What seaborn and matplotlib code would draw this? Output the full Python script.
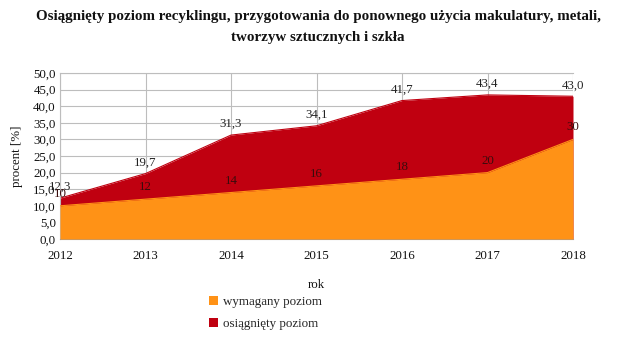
import matplotlib
matplotlib.use("Agg")
import matplotlib.pyplot as plt
import seaborn as sns
import pandas as pd
from matplotlib.patches import Patch

years = [2012, 2013, 2014, 2015, 2016, 2017, 2018]
required = [10, 12, 14, 16, 18, 20, 30]
achieved = [12.3, 19.7, 31.3, 34.1, 41.7, 43.4, 43.0]
required_labels = ["10", "12", "14", "16", "18", "20", "30"]
achieved_labels = ["12,3", "19,7", "31,3", "34,1", "41,7", "43,4", "43,0"]
yticks = [0, 5, 10, 15, 20, 25, 30, 35, 40, 45, 50]
ytick_labels = ["0,0", "5,0", "10,0", "15,0", "20,0", "25,0", "30,0", "35,0", "40,0", "45,0", "50,0"]

title = "Osiągnięty poziom recyklingu, przygotowania do ponownego użycia makulatury, metali,\ntworzyw sztucznych i szkła"
series_names = ["wymagany poziom", "osiągnięty poziom"]

ORANGE = "#FF9216"
RED = "#C00010"

sns.set_theme(style="whitegrid")
plt.rcParams["font.family"] = ["Liberation Serif", "DejaVu Serif"]

df = pd.DataFrame({"rok": years, "wymagany": required, "osiagniety": achieved})

fig = plt.figure(figsize=(6.36, 3.44), dpi=100)
ax = fig.add_axes([60/636, 1-239/344, 513/636, 166/344])

ax.fill_between(df["rok"], 0, df["osiagniety"], color=RED, linewidth=0, zorder=2)
ax.fill_between(df["rok"], 0, df["wymagany"], color=ORANGE, linewidth=0, zorder=3)
sns.lineplot(data=df, x="rok", y="osiagniety", color=RED, linewidth=0.8, ax=ax, zorder=2)
sns.lineplot(data=df, x="rok", y="wymagany", color=ORANGE, linewidth=0.8, ax=ax, zorder=3)

for x, y, t in zip(years, achieved, achieved_labels):
    ax.annotate(t, (x, y), xytext=(0, 11), textcoords="offset pixels",
                ha="center", va="center", fontsize=9.3, color="#222222", zorder=5)
for x, y, t in zip(years, required, required_labels):
    ax.annotate(t, (x, y), xytext=(0, 12), textcoords="offset pixels",
                ha="center", va="center", fontsize=9.3, color="#3a0c0c", zorder=5)

ax.set_xlim(2012, 2018)
ax.set_ylim(0, 50)
ax.set_xticks(years)
ax.set_xticklabels([str(y) for y in years], fontsize=9.3)
ax.set_yticks(yticks)
ax.set_yticklabels(ytick_labels, fontsize=9.3)
ax.tick_params(axis="both", length=0, pad=3, colors="#111111")
ax.tick_params(axis="x", pad=8)
ax.grid(True, color="#bdbdbd", linewidth=0.8)
ax.set_axisbelow(True)
for s in ["left", "top"]:
    ax.spines[s].set_visible(True)
    ax.spines[s].set_color("#bdbdbd")
    ax.spines[s].set_linewidth(0.8)
ax.spines["right"].set_visible(False)
ax.spines["bottom"].set_color("#9e9e9e")
ax.spines["bottom"].set_linewidth(0.8)

ax.set_xlabel("rok", fontsize=9.3, labelpad=12, color="#111111")
ax.set_ylabel("procent [%]", fontsize=9.3, labelpad=7, color="#111111")

fig.text(0.5, 1-27/344, title, ha="center", va="center", fontsize=10.8,
         fontweight="bold", linespacing=1.75, color="#111111")

handles = [Patch(facecolor=ORANGE, edgecolor="none"), Patch(facecolor=RED, edgecolor="none")]
fig.legend(handles, series_names, loc="upper left", bbox_to_anchor=(204/636, 1-291/344),
           frameon=False, fontsize=9.4, handlelength=0.7, handleheight=0.7,
           handletextpad=0.35, labelspacing=0.75, borderaxespad=0)

fig.savefig("out.png", dpi=100, facecolor="white")
